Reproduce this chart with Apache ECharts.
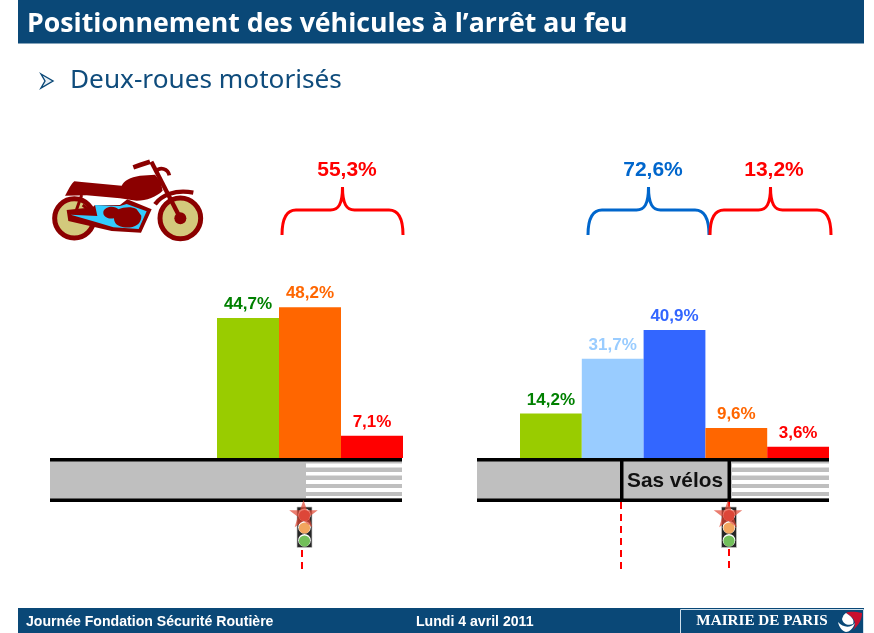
<!DOCTYPE html>
<html><head><meta charset="utf-8">
<style>html,body{margin:0;padding:0;background:#fff}#c{width:874px;height:633px}</style>
<script src="https://cdn.jsdelivr.net/npm/echarts@6/dist/echarts.min.js"></script>
</head><body><div id="c"></div>
<script>
const leftCategories = ['Avant la zone', 'Sur le passage', 'Après le passage'];
const leftValues = [44.7, 48.2, 7.1];
const rightCategories = ['Avant le sas', 'Début du sas', 'Fin du sas', 'Sur le passage', 'Après le passage'];
const rightValues = [14.2, 31.7, 40.9, 9.6, 3.6];
const leftBarColors = ['#99cc00', '#ff6600', '#ff0000'];
const leftLabelColors = ['#008000', '#ff6600', '#ff0000'];
const rightBarColors = ['#99cc00', '#99ccff', '#3366ff', '#ff6600', '#ff0000'];
const rightLabelColors = ['#008000', '#99ccff', '#3366ff', '#ff6600', '#ff0000'];
const braceTexts = ['55,3%', '72,6%', '13,2%'];

const NAVY = '#0a4877', ROAD = '#bfbfbf', DARK = '#8b0000';
const pct = v => String(v).replace('.', ',') + '%';
const items = (vals, cols, lcols) => vals.map((v, i) => ({
  value: v, itemStyle: { color: cols[i] }, label: { color: lcols[i] }
}));
const barSeries = (idx, vals, cols, lcols) => ({
  type: 'bar', xAxisIndex: idx, yAxisIndex: idx, barWidth: '100%', z: 3,
  data: items(vals, cols, lcols),
  label: { show: true, position: 'top', distance: 5, fontFamily: 'Liberation Sans', fontWeight: 'bold', fontSize: 17, formatter: p => pct(p.value) }
});

let pathCount = 0;
const svgPath = (d, style, z) => {
  const name = 'sketchPath' + (pathCount++);
  echarts.graphic.registerShape(name, echarts.graphic.extendPath(d, {}));
  return { type: name, silent: true, z: z || 2, style };
};
const rect = (x, y, w, h, fill, z) => ({ type: 'rect', shape: { x, y, width: w, height: h }, style: { fill }, z: z || 1, silent: true });
const txt = (x, y, text, size, fill, family, weight, align) => ({
  type: 'text', x, y, z: 5, silent: true,
  style: { text, fill, fontFamily: family || 'Liberation Sans', fontWeight: weight || 'bold', fontSize: size, align: align || 'center', verticalAlign: 'middle' }
});
const vline = (x, y1, y2, stroke, w, dash) => ({
  type: 'line', shape: { x1: x, y1, x2: x, y2 }, z: 2, silent: true,
  style: { stroke, lineWidth: w, lineDash: dash || null }
});
const brace = (x1, x2, color) => {
  const m = (x1 + x2) / 2;
  return svgPath(`M${x1} 235 C${x1} 219 ${x1 + 4} 210 ${x1 + 14} 210 L${m - 12} 210 C${m - 4} 210 ${m} 204 ${m} 187 C${m} 204 ${m + 4} 210 ${m + 12} 210 L${x2 - 14} 210 C${x2 - 4} 210 ${x2} 219 ${x2} 235`,
    { fill: null, stroke: color, lineWidth: 3 }, 2);
};
const road = (x1, x2, stripeX) => {
  const out = [rect(x1, 461, x2 - x1, 38, ROAD)];
  [[463.5, 4], [472, 3.5], [480, 4], [488, 4], [496, 2]].forEach(s => out.push(rect(stripeX, s[0], x2 - stripeX, s[1], '#ffffff', 1.5)));
  out.push(rect(x1, 458, x2 - x1, 3.5, '#000'), rect(x1, 498.5, x2 - x1, 3.5, '#000'));
  return out;
};
const star = (cx, cy) => {
  const pts = [];
  for (let i = 0; i < 10; i++) {
    const r = i % 2 ? 6 : 15, a = -Math.PI / 2 + i * Math.PI / 5;
    pts.push([cx + r * Math.cos(a), cy + r * Math.sin(a)]);
  }
  return { type: 'polygon', z: 4, silent: true, shape: { points: pts }, style: { fill: 'rgba(225,70,50,0.7)' } };
};
const lamp = (cx, cy, fill) => ([
  { type: 'circle', z: 3, silent: true, shape: { cx, cy: cy - 0.8, r: 6.3 }, style: { fill: '#ffffff' } },
  { type: 'circle', z: 3.1, silent: true, shape: { cx, cy, r: 5.6 }, style: { fill } }
]);
const light = (cx) => [
  { type: 'rect', z: 2.5, silent: true, shape: { x: cx - 7.5, y: 507, width: 15, height: 40.5 }, style: { fill: '#262626', stroke: '#c8c8c8', lineWidth: 0.7 } },
  ...lamp(cx, 515.5, '#d24848'), ...lamp(cx, 528, '#f2a65e'), ...lamp(cx, 541, '#72bf5a'),
  star(cx - 1, 515)
];
// motorcycle drawn in a 3x local space
const moto = {
  type: 'group', x: 40, y: 150, scaleX: 1 / 3, scaleY: 1 / 3, silent: true, z: 3,
  children: [
    { type: 'circle', shape: { cx: 103, cy: 205, r: 59 }, style: { fill: '#d3c97c', stroke: DARK, lineWidth: 15 } },
    { type: 'circle', shape: { cx: 421, cy: 205, r: 61 }, style: { fill: '#d3c97c', stroke: DARK, lineWidth: 15 } },
    { type: 'circle', shape: { cx: 421, cy: 205, r: 18 }, style: { fill: DARK } },
    svgPath('M80 180 L158 172 L165 165 L240 165 L262 148 L335 178 L303 248 L215 243 L85 213 Z', { fill: DARK }),
    svgPath('M92 194 L172 198 L165 165 L240 168 L260 162 L320 184 L296 237 L220 232 L165 215 Z', { fill: '#33ccff' }),
    svgPath('M190 185 C195 168 225 165 235 178 C250 172 275 168 290 178 L304 197 C305 225 280 235 250 232 C225 228 222 212 222 205 C205 208 188 200 190 185 Z', { fill: DARK }),
    svgPath('M75 137 C85 122 92 102 103 94 L125 96 L245 107 C252 92 270 82 300 77 L345 74 L362 95 L368 122 C350 140 320 152 290 152 L240 145 L140 136 Z', { fill: DARK }),
    svgPath('M125 135 L105 192 M128 165 L160 190', { fill: null, stroke: DARK, lineWidth: 9 }),
    svgPath('M334 35 L421 205', { fill: null, stroke: DARK, lineWidth: 13 }),
    svgPath('M280 52 L300 45 L330 35', { fill: null, stroke: DARK, lineWidth: 14 }),
    svgPath('M348 64 C360 50 384 55 388 76', { fill: null, stroke: DARK, lineWidth: 11 }),
    svgPath('M345 163 C365 135 405 118 460 128', { fill: null, stroke: DARK, lineWidth: 13 })
  ]
};
const logo = [
  { type: 'rect', z: 2.1, silent: true, shape: { x: 680.5, y: 609.5, width: 183, height: 24 }, style: { fill: NAVY, stroke: '#cfe0ec', lineWidth: 1 } },
  txt(762, 621, 'MAIRIE DE PARIS', 15.2, '#ffffff', 'Liberation Serif', 'bold'),
  svgPath('M838 622 C843 628 851 628 855 623 C853 629 849 632 846 632 C842 631 839 627 838 622 Z', { fill: '#ffffff' }, 3),
  svgPath('M846 613 C850 611 856 612 862 613 C862 619 859 625 853 630 C858 622 853 617 846 613 Z', { fill: '#c8102e' }, 3),
  svgPath('M846 613 C851 616 855 620 853 624 C848 626 843 624 842 619 C843 616 844 614 846 613 Z', { fill: '#ffffff' }, 3)
];

const graphics = [
  rect(18, 0, 846, 43.5, NAVY),
  txt(27, 24, 'Positionnement des véhicules à l’arrêt au feu', 26.7, '#ffffff', 'Open Sans', 'bold', 'left'),
  { type: 'polygon', z: 3, silent: true, shape: { points: [[41, 74], [53, 81], [41, 88], [45, 81]] }, style: { fill: '#e8eff5', stroke: NAVY, lineWidth: 1.4 } },
  txt(70, 81, 'Deux-roues motorisés', 26.2, '#0f4c7c', 'Noto Sans', 'normal', 'left'),
  moto,
  brace(282, 403, '#ff0000'), brace(588, 709, '#0066cc'), brace(710, 831, '#ff0000'),
  txt(347, 170, braceTexts[0], 21, '#ff0000'),
  txt(653, 170, braceTexts[1], 21, '#0066cc'),
  txt(774, 170, braceTexts[2], 21, '#ff0000'),
  ...road(50, 402, 306),
  ...road(477, 829, 732),
  rect(620, 458, 3.5, 44, '#000', 2), rect(727.5, 458, 3.5, 44, '#000', 2),
  txt(675, 481, 'Sas vélos', 20.8, '#111111'),
  vline(302, 550, 571, '#ff0000', 2, [7, 5]),
  vline(621, 502, 571, '#ff0000', 2, [7, 5]),
  vline(729, 502, 507, '#ff0000', 2),
  vline(729, 549, 571, '#ff0000', 2, [7, 5]),
  ...light(304.5), ...light(729),
  rect(18, 608, 846, 25, NAVY),
  txt(26, 622, 'Journée Fondation Sécurité Routière', 14.1, '#ffffff', 'Liberation Sans', 'bold', 'left'),
  txt(416, 622, 'Lundi 4 avril 2011', 14.1, '#ffffff', 'Liberation Sans', 'bold', 'left'),
  ...logo
];

const chart = echarts.init(document.getElementById('c'), null, { renderer: 'canvas' });
const axisX = (gridIndex, data) => ({ type: 'category', gridIndex, data, show: false });
const axisY = gridIndex => ({ type: 'value', gridIndex, min: 0, max: 50, show: false });
chart.setOption({
  animation: false,
  backgroundColor: '#ffffff',
  grid: [
    { left: 217, top: 301.5, width: 186, height: 156.5 },
    { left: 520, top: 301.5, width: 309, height: 156.5 }
  ],
  xAxis: [axisX(0, leftCategories), axisX(1, rightCategories)],
  yAxis: [axisY(0), axisY(1)],
  series: [
    barSeries(0, leftValues, leftBarColors, leftLabelColors),
    barSeries(1, rightValues, rightBarColors, rightLabelColors)
  ],
  graphic: { elements: graphics }
});
</script></body></html>
